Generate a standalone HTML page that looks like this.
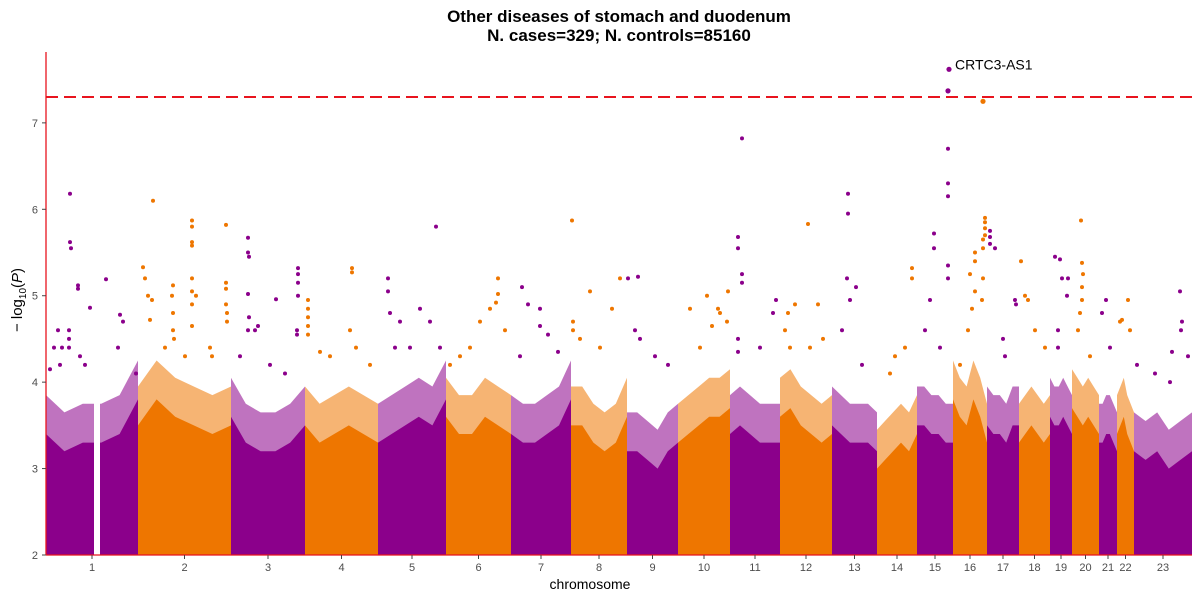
<!DOCTYPE html>
<html><head><meta charset="utf-8">
<style>
html,body{margin:0;padding:0;background:#fff;}
svg{display:block;font-family:"Liberation Sans",sans-serif;}
</style></head>
<body>
<svg id="chart" width="1200" height="600" xmlns="http://www.w3.org/2000/svg">
<text x="619" y="22" text-anchor="middle" font-size="17" font-weight="bold">Other diseases of stomach and duodenum</text>
<text x="619" y="41" text-anchor="middle" font-size="17" font-weight="bold">N. cases=329; N. controls=85160</text>
<g id="bulk"></g>
<g id="pts"></g>
<g id="axes"></g>
<text x="590" y="589" text-anchor="middle" font-size="14">chromosome</text>
<text transform="translate(22,300) rotate(-90)" text-anchor="middle" font-size="15">− log<tspan font-size="10" dy="4">10</tspan><tspan dy="-4">(</tspan><tspan font-style="italic">P</tspan>)</text>
</svg>
<script>
const chromNames=["1","2","3","4","5","6","7","8","9","10","11","12","13","14","15","16","17","18","19","20","21","22","23"];
const chromLengths=[92,93,74,73,68,65,60,56,51,52,50,52,45,40,36,34,32,31,22,27,18,17,58];
const envelope=[
[3.4,3.2,3.3,3.3,3.4,3.8],[3.5,3.8,3.6,3.5,3.4,3.5],[3.6,3.3,3.2,3.2,3.3,3.5],[3.5,3.3,3.4,3.5,3.4,3.3],
[3.3,3.4,3.5,3.6,3.5,3.8],[3.6,3.4,3.4,3.6,3.5,3.4],[3.4,3.3,3.3,3.4,3.5,3.8],[3.5,3.5,3.3,3.2,3.3,3.6],
[3.2,3.2,3.1,3.0,3.2,3.3],[3.3,3.4,3.5,3.6,3.6,3.7],[3.4,3.5,3.4,3.3,3.3,3.3],[3.6,3.7,3.5,3.4,3.3,3.4],
[3.5,3.4,3.3,3.3,3.3,3.2],[3.0,3.1,3.2,3.3,3.2,3.4],[3.5,3.5,3.4,3.4,3.3,3.3],[3.8,3.6,3.5,3.8,3.6,3.3],
[3.5,3.4,3.4,3.3,3.5,3.5],[3.3,3.4,3.5,3.4,3.3,3.4],[3.6,3.5,3.5,3.6,3.5,3.4],[3.7,3.6,3.5,3.6,3.5,3.4],
[3.3,3.3,3.4,3.4,3.3,3.2],[3.4,3.5,3.6,3.4,3.3,3.2],[3.2,3.1,3.2,3.0,3.1,3.2]];
const gapChrom=[1];const gapStart=[48];const gapEnd=[54];
const ptChrom=[],ptPos=[],ptP=[];
const rawPts={
1:[[70,6.18],[70,5.62],[71,5.55],[78,5.12],[78,5.08],[90,4.86],[69,4.6],[69,4.5],[69,4.4],[58,4.6],[62,4.4],[54,4.4],[50,4.15],[120,4.78],[106,5.19],[123,4.7],[60,4.2],[80,4.3],[85,4.2],[118,4.4],[136,4.1]],
2:[[153,6.1],[143,5.33],[145,5.2],[148,5.0],[152,4.95],[150,4.72],[173,5.12],[172,5.0],[173,4.8],[173,4.6],[174,4.5],[192,5.87],[192,5.8],[192,5.62],[192,5.58],[192,5.2],[192,5.05],[192,4.9],[192,4.65],[226,5.82],[226,5.15],[226,5.08],[226,4.9],[227,4.8],[227,4.7],[196,5.0],[210,4.4],[165,4.4],[185,4.3],[212,4.3]],
3:[[248,5.67],[248,5.5],[249,5.45],[248,5.02],[249,4.75],[248,4.6],[255,4.6],[258,4.65],[276,4.96],[298,5.32],[298,5.25],[298,5.15],[298,5.0],[297,4.6],[297,4.55],[240,4.3],[270,4.2],[285,4.1]],
4:[[308,4.95],[308,4.85],[308,4.75],[308,4.65],[308,4.55],[352,5.32],[352,5.27],[350,4.6],[356,4.4],[330,4.3],[370,4.2],[320,4.35]],
5:[[388,5.2],[388,5.05],[390,4.8],[400,4.7],[420,4.85],[436,5.8],[430,4.7],[410,4.4],[395,4.4],[440,4.4]],
6:[[450,4.2],[498,5.2],[498,5.02],[496,4.92],[490,4.85],[480,4.7],[505,4.6],[470,4.4],[460,4.3]],
7:[[522,5.1],[528,4.9],[540,4.85],[540,4.65],[548,4.55],[558,4.35],[520,4.3]],
8:[[572,5.87],[573,4.7],[573,4.6],[590,5.05],[620,5.2],[612,4.85],[580,4.5],[600,4.4]],
9:[[628,5.2],[638,5.22],[635,4.6],[640,4.5],[655,4.3],[668,4.2]],
10:[[690,4.85],[707,5.0],[712,4.65],[718,4.85],[720,4.8],[728,5.05],[727,4.7],[700,4.4]],
11:[[742,6.82],[738,5.68],[738,5.55],[742,5.25],[742,5.15],[738,4.5],[738,4.35],[760,4.4],[773,4.8],[776,4.95]],
12:[[808,5.83],[795,4.9],[788,4.8],[785,4.6],[818,4.9],[823,4.5],[810,4.4],[790,4.4]],
13:[[848,6.18],[848,5.95],[847,5.2],[850,4.95],[856,5.1],[842,4.6],[862,4.2]],
14:[[912,5.32],[912,5.2],[895,4.3],[905,4.4],[890,4.1]],
15:[[949,7.62],[948,7.37],[948,6.7],[948,6.3],[948,6.15],[934,5.72],[934,5.55],[948,5.35],[948,5.2],[930,4.95],[925,4.6],[940,4.4]],
16:[[983,7.25],[985,5.9],[985,5.85],[985,5.78],[985,5.7],[983,5.65],[983,5.55],[975,5.5],[975,5.4],[970,5.25],[975,5.05],[983,5.2],[982,4.95],[972,4.85],[968,4.6],[960,4.2]],
17:[[990,5.75],[990,5.68],[990,5.6],[995,5.55],[1003,4.5],[1015,4.95],[1016,4.9],[1005,4.3]],
18:[[1021,5.4],[1025,5.0],[1028,4.95],[1035,4.6],[1045,4.4]],
19:[[1055,5.45],[1060,5.42],[1062,5.2],[1068,5.2],[1067,5.0],[1058,4.6],[1058,4.4]],
20:[[1081,5.87],[1082,5.38],[1083,5.25],[1082,5.1],[1082,4.95],[1080,4.8],[1078,4.6],[1090,4.3]],
21:[[1102,4.8],[1106,4.95],[1110,4.4]],
22:[[1122,4.72],[1120,4.7],[1128,4.95],[1130,4.6]],
23:[[1137,4.2],[1155,4.1],[1170,4.0],[1180,5.05],[1182,4.7],[1181,4.6],[1188,4.3],[1172,4.35]]};
const yTicks=[2,3,4,5,6,7];
const threshold=7.3;
const annotGene="CRTC3-AS1";const annotChrom=15;const annotP=7.62;const annotPos=32;

const NS="http://www.w3.org/2000/svg";
const X0=46,X1=1192,Y0=555,Ymin=2,Ymax=7.82,Ytop=52;
const total=chromLengths.reduce((a,b)=>a+b,0);
const starts=[];let acc=0;chromLengths.forEach(l=>{starts.push(acc);acc+=l;});
const xs=(c,pos)=>X0+(starts[c-1]+pos)/total*(X1-X0);
const ys=v=>Y0-(v-Ymin)/(Ymax-Ymin)*(Y0-Ytop);
const col=c=>(c%2===1?"#8B008B":"#EE7600");
for(const k in rawPts){const c=+k;rawPts[k].forEach(p=>{ptChrom.push(c);ptPos.push(Math.max(0.5,Math.min(chromLengths[c-1]-0.5,p[0]-X0-starts[c-1])));ptP.push(p[1]);});}
function mk(t,a,parent){const e=document.createElementNS(NS,t);for(const k in a)e.setAttribute(k,a[k]);parent.appendChild(e);return e;}
const bulk=document.getElementById('bulk');
chromLengths.forEach((L,i)=>{
  const c=i+1,env=envelope[i],n=env.length;
  const pt=(j,v)=>xs(c,L*j/(n-1)).toFixed(1)+","+ys(v).toFixed(1);
  let fr=[xs(c,0)+","+Y0],so=[xs(c,0)+","+Y0];
  env.forEach((v,j)=>{fr.push(pt(j,v+0.45));so.push(pt(j,v));});
  fr.push(xs(c,L)+","+Y0);so.push(xs(c,L)+","+Y0);
  const f=mk('polygon',{points:fr.join(" "),fill:col(c),'fill-opacity':0.55},bulk);
  
  
  const s=mk('polygon',{points:so.join(" "),fill:col(c)},bulk);
  
  
});
gapChrom.forEach((c,i)=>{
  const r=mk('rect',{x:xs(c,gapStart[i]),y:ys(4.0),width:xs(c,gapEnd[i])-xs(c,gapStart[i]),height:Y0-ys(4.0),fill:"#fff"},bulk);
  
  
});
const pts=document.getElementById('pts');
ptP.forEach((p,i)=>{
  const c=mk('circle',{cx:xs(ptChrom[i],ptPos[i]).toFixed(1),cy:ys(p).toFixed(1),r:p>7?2.6:2,fill:col(ptChrom[i])},pts);
  
  
});
const ax=document.getElementById('axes');
const th=mk('line',{x1:X0,x2:X1,y1:ys(threshold),y2:ys(threshold),stroke:"#e8141e","stroke-width":2,"stroke-dasharray":"12,6"},ax);


const ya=mk('line',{x1:X0,x2:X0,y1:Ytop,y2:Y0,stroke:"#e8141e","stroke-width":1.3},ax);


const xa=mk('line',{x1:X0,x2:X1,y1:Y0,y2:Y0,stroke:"#e8141e","stroke-width":1.3},ax);


yTicks.forEach(v=>{
  mk('line',{x1:X0-4,x2:X0,y1:ys(v),y2:ys(v),stroke:"#444"},ax);
  const t=mk('text',{x:X0-8,y:ys(v)+4,'text-anchor':'end','font-size':11,fill:"#4d4d4d"},ax);
  t.textContent=v;
  
  
});
chromNames.forEach((nm,i)=>{
  const x=xs(i+1,chromLengths[i]/2);
  mk('line',{x1:x,x2:x,y1:Y0,y2:Y0+4,stroke:"#444"},ax);
  const t=mk('text',{x:x,y:Y0+16,'text-anchor':'middle','font-size':11,fill:"#4d4d4d"},ax);
  t.textContent=nm;
  
  
});
const an=mk('text',{x:xs(annotChrom,annotPos)+6,y:ys(annotP)+0,'font-size':14,fill:"#000"},ax);
an.textContent=annotGene;


</script>
</body></html>
